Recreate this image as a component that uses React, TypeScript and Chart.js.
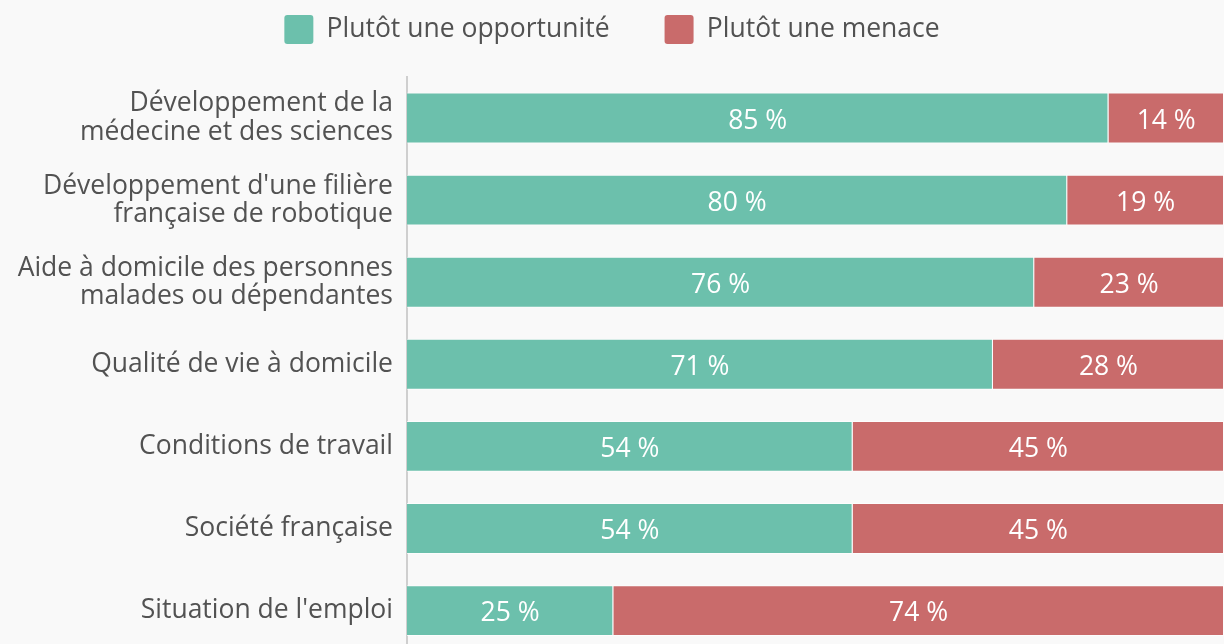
import React, { useEffect, useRef } from "react";
import { Chart, registerables } from "chart.js";

Chart.register(...registerables);

const categories: (string | string[])[] = [
  ["Développement de la", "médecine et des sciences"],
  ["Développement d'une filière", "française de robotique"],
  ["Aide à domicile des personnes", "malades ou dépendantes"],
  "Qualité de vie à domicile",
  "Conditions de travail",
  "Société française",
  "Situation de l'emploi",
];
const opportunite = [85, 80, 76, 71, 54, 54, 25];
const menace = [14, 19, 23, 28, 45, 45, 74];
const seriesNames = ["Plutôt une opportunité", "Plutôt une menace"];
const FONT = "'Open Sans', sans-serif";
const FS = 26.5;

const valueLabels = {
  id: "valueLabels",
  afterDatasetsDraw(chart: any) {
    const ctx = chart.ctx;
    ctx.save();
    ctx.font = `${FS}px ${FONT}`;
    ctx.fillStyle = "#ffffff";
    ctx.textAlign = "center";
    ctx.textBaseline = "middle";
    chart.data.datasets.forEach((ds: any, di: number) => {
      const meta = chart.getDatasetMeta(di);
      meta.data.forEach((bar: any, i: number) => {
        const p = bar.getProps(["x", "y", "base"], true);
        const cx = (p.x + p.base) / 2;
        ctx.fillText(`${ds.data[i]} %`, cx, p.y + 3);
      });
    });
    ctx.restore();
  },
};

const legendSize = {
  id: "legendSize",
  beforeInit(chart: any) {
    const lg = chart.legend;
    if (!lg) return;
    const orig = lg.fit;
    lg.fit = function () {
      orig.call(this);
      this.height = 117;
    };
  },
};

export default function App() {
  const ref = useRef<HTMLCanvasElement | null>(null);
  useEffect(() => {
    document.body.style.margin = "0";
    document.body.style.overflow = "hidden";
    const chart = new Chart(ref.current!, {
      type: "bar",
      data: {
        labels: categories,
        datasets: [
          {
            label: seriesNames[0],
            data: opportunite,
            backgroundColor: "#6cc0ac",
            borderColor: "rgba(255,255,255,0.7)",
            borderWidth: 1,
            barPercentage: 0.62,
            categoryPercentage: 1,
          },
          {
            label: seriesNames[1],
            data: menace,
            backgroundColor: "#c96b6b",
            borderColor: "rgba(255,255,255,0.7)",
            borderWidth: 1,
            barPercentage: 0.62,
            categoryPercentage: 1,
          },
        ],
      },
      options: {
        indexAxis: "y",
        responsive: false,
        animation: false,
        layout: { padding: { top: -40, left: 0, right: 0, bottom: 0 } },
        scales: {
          x: { stacked: true, min: 0, max: 99, display: false },
          y: {
            stacked: true,
            grid: { display: false, drawTicks: false },
            border: { display: true, color: "#cfcfcf", width: 2 },
            ticks: {
              padding: 14,
              color: "#525252",
              font: { family: FONT, size: FS, lineHeight: 1.07 },
            },
            afterFit(scale: any) {
              scale.width = 407;
            },
          },
        },
        plugins: {
          tooltip: { enabled: false },
          legend: {
            display: true,
            position: "top",
            labels: {
              boxWidth: 29,
              boxHeight: 29,
              padding: 55,
              color: "#525252",
              font: { family: FONT, size: FS },
              useBorderRadius: true,
              borderRadius: 3,
              generateLabels(chart: any) {
                return chart.data.datasets.map((ds: any, i: number) => ({
                  text: ds.label,
                  fillStyle: ds.backgroundColor,
                  strokeStyle: ds.backgroundColor,
                  lineWidth: 0,
                  borderRadius: 3,
                  datasetIndex: i,
                  hidden: false,
                  fontColor: "#525252",
                }));
              },
            },
          },
        },
      },
      plugins: [legendSize, valueLabels],
    } as any);
    return () => chart.destroy();
  }, []);
  return (
    <div style={{ width: 1224, height: 644, overflow: "hidden", background: "#f9f9f9" }}>
      <canvas ref={ref} width={1224} height={694} style={{ display: "block" }} />
    </div>
  );
}
